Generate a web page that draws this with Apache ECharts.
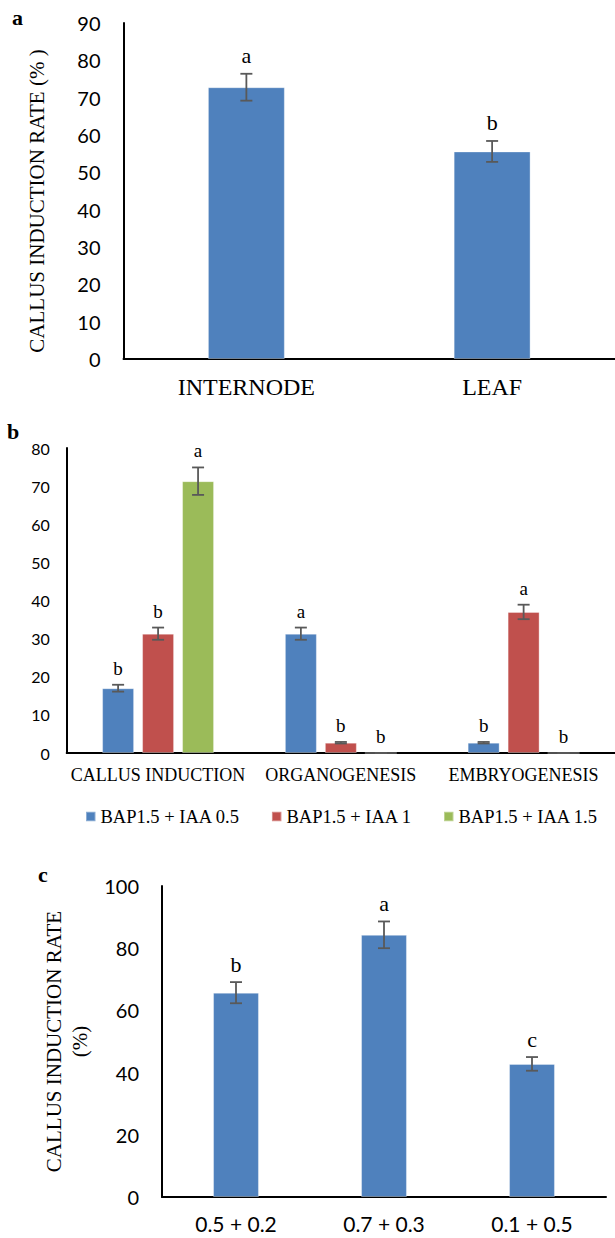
<!DOCTYPE html>
<html><head><meta charset="utf-8">
<script src="https://cdn.jsdelivr.net/npm/echarts@6/dist/echarts.min.js"></script>
<style>html,body{margin:0;padding:0;background:#fff}#c{width:615px;height:1238px}</style>
</head><body><div id="c"></div>
<script>
// ---------- Panel a ----------
const aCategories = ['INTERNODE', 'LEAF'];
const aValues = [72.8, 55.6];
const aErrors = [3.6, 2.8];
const aLetters = ['a', 'b'];
const aAxisMax = 90, aAxisStep = 10;
const aTitle = 'CALLUS INDUCTION RATE (% )';

// ---------- Panel b ----------
const bCategories = ['CALLUS INDUCTION', 'ORGANOGENESIS', 'EMBRYOGENESIS'];
const bSeriesNames = ['BAP1.5 + IAA 0.5', 'BAP1.5 + IAA 1', 'BAP1.5 + IAA 1.5'];
const bValues05 = [17.0, 31.3, 2.7];
const bValues1 = [31.3, 2.7, 37.0];
const bValues15 = [71.3, 0, 0];
const bErrors05 = [0.9, 1.6, 0.2];
const bErrors1 = [1.6, 0.2, 1.9];
const bErrors15 = [3.6, 0, 0];
const bLetters05 = ['b', 'a', 'b'];
const bLetters1 = ['b', 'b', 'a'];
const bLetters15 = ['a', 'b', 'b'];
const bAxisMax = 80, bAxisStep = 10;

// ---------- Panel c ----------
const cCategories = ['0.5 + 0.2', '0.7 + 0.3', '0.1 + 0.5'];
const cValues = [65.7, 84.3, 42.8];
const cErrors = [3.4, 4.3, 2.2];
const cLetters = ['b', 'a', 'c'];
const cAxisMax = 100, cAxisStep = 20;
const cTitle = 'CALLUS INDUCTION RATE\n(%)';

const panelLabels = ['a', 'b', 'c'];

// ---------- styling / layout ----------
const SERIF = "'Liberation Serif', 'Times New Roman', serif";
const SANS = "Lato, 'Liberation Sans', sans-serif";
const BLUE = '#4f81bd', RED = '#c0504d', GREEN = '#9bbb59';
const ERR = '#595959';

const gA = {left: 123.5, top: 23, width: 491.5, height: 336};
const gB = {left: 66.7, top: 448, width: 548.3, height: 305};
const gC = {left: 162, top: 886, width: 444, height: 311};

function errSeries(axisIdx, values, errors, letters, slot, nSlots, barFrac, gapFrac, fontSize) {
  return {
    type: 'custom',
    xAxisIndex: axisIdx, yAxisIndex: axisIdx,
    z: 5,
    silent: true,
    data: values.map((v, i) => [i, v, errors[i]]),
    encode: {x: 0, y: 1},
    renderItem: function (params, api) {
      const c = api.value(0), v = api.value(1), e = api.value(2);
      const catW = api.size([1, 0])[0];
      const bw = catW * barFrac;
      const off = (slot - (nSlots - 1) / 2) * bw * (1 + gapFrac);
      const top = api.coord([c, v + e]);
      const bot = api.coord([c, v - e]);
      const x = top[0] + off;
      const cap = 6;
      const ls = {stroke: ERR, lineWidth: 1.8};
      return {
        type: 'group',
        children: [
          {type: 'line', shape: {x1: x, y1: top[1], x2: x, y2: bot[1]}, style: ls},
          {type: 'line', shape: {x1: x - cap, y1: top[1], x2: x + cap, y2: top[1]}, style: ls},
          {type: 'line', shape: {x1: x - cap, y1: bot[1], x2: x + cap, y2: bot[1]}, style: ls},
          {type: 'text', x: x, y: top[1] - 7,
           style: {text: letters[params.dataIndex], fill: '#000', font: fontSize + 'px ' + SERIF,
                   align: 'center', verticalAlign: 'bottom'}}
        ]
      };
    }
  };
}

function xAxisOf(gi, cats, family, fontSize, margin) {
  return {
    type: 'category', gridIndex: gi, data: cats,
    axisTick: {show: false},
    axisLine: {lineStyle: {color: '#000', width: 2}},
    axisLabel: {color: '#000', fontFamily: family, fontSize: fontSize, margin: margin, interval: 0},
    splitLine: {show: false}
  };
}
function yAxisOf(gi, max, step, fontSize, margin, name, nameGap, nameStyle) {
  return {
    type: 'value', gridIndex: gi, min: 0, max: max, interval: step,
    axisLine: {show: true, lineStyle: {color: '#000', width: 2}},
    axisTick: {show: false},
    splitLine: {show: false},
    axisLabel: {color: '#000', fontFamily: SANS, fontSize: fontSize, margin: margin},
    name: name || '', nameLocation: 'middle', nameRotate: 90, nameGap: nameGap || 0,
    nameTextStyle: Object.assign({color: '#000', fontFamily: SERIF, fontSize: 21}, nameStyle || {})
  };
}

const barBorder = (c) => ({color: c, borderColor: 'rgba(255,255,255,0.35)', borderWidth: 1});

const option = {
  animation: false,
  backgroundColor: '#fff',
  grid: [gA, gB, gC].map(g => Object.assign({containLabel: false}, g)),
  xAxis: [
    xAxisOf(0, aCategories, SERIF, 24, 16),
    xAxisOf(1, bCategories, SERIF, 18, 13),
    xAxisOf(2, cCategories, SANS, 21, 16)
  ],
  yAxis: [
    yAxisOf(0, aAxisMax, aAxisStep, 20, 23, aTitle, 76, {padding: [0, 20, 0, 0]}),
    yAxisOf(1, bAxisMax, bAxisStep, 16, 17),
    yAxisOf(2, cAxisMax, cAxisStep, 20, 23, cTitle, 55, {lineHeight: 26})
  ],
  legend: {
    data: bSeriesNames,
    left: 80, top: 802,
    icon: 'rect', itemWidth: 9.5, itemHeight: 9.5, itemGap: 31,
    textStyle: {color: '#000', fontFamily: SERIF, fontSize: 18.5}
  },
  series: [
    {type: 'bar', name: 'a', xAxisIndex: 0, yAxisIndex: 0, data: aValues, barWidth: '31.3%', itemStyle: barBorder(BLUE)},
    errSeries(0, aValues, aErrors, aLetters, 0, 1, 0.313, 0, 22),

    {type: 'bar', name: bSeriesNames[0], xAxisIndex: 1, yAxisIndex: 1, data: bValues05, barWidth: '17.5%', barGap: '25%', itemStyle: barBorder(BLUE)},
    {type: 'bar', name: bSeriesNames[1], xAxisIndex: 1, yAxisIndex: 1, data: bValues1, barWidth: '17.5%', barGap: '25%', itemStyle: barBorder(RED)},
    {type: 'bar', name: bSeriesNames[2], xAxisIndex: 1, yAxisIndex: 1, data: bValues15, barWidth: '17.5%', barGap: '25%', itemStyle: barBorder(GREEN)},
    errSeries(1, bValues05, bErrors05, bLetters05, 0, 3, 0.175, 0.25, 19),
    errSeries(1, bValues1, bErrors1, bLetters1, 1, 3, 0.175, 0.25, 19),
    errSeries(1, bValues15, bErrors15, bLetters15, 2, 3, 0.175, 0.25, 19),

    {type: 'bar', name: 'c', xAxisIndex: 2, yAxisIndex: 2, data: cValues, barWidth: '31%', itemStyle: barBorder(BLUE)},
    errSeries(2, cValues, cErrors, cLetters, 0, 1, 0.31, 0, 22)
  ],
  graphic: [
    {type: 'text', x: 12, y: 28.5, style: {text: panelLabels[0], font: 'bold 22px ' + SERIF, fill: '#000', align: 'left', verticalAlign: 'bottom'}},
    {type: 'text', x: 7, y: 442.5, style: {text: panelLabels[1], font: 'bold 22px ' + SERIF, fill: '#000', align: 'left', verticalAlign: 'bottom'}},
    {type: 'text', x: 38, y: 885, style: {text: panelLabels[2], font: 'bold 22px ' + SERIF, fill: '#000', align: 'left', verticalAlign: 'bottom'}}
  ]
};

const chart = echarts.init(document.getElementById('c'), null, {renderer: 'svg', width: 615, height: 1238});
chart.setOption(option);
</script>
</body></html>
